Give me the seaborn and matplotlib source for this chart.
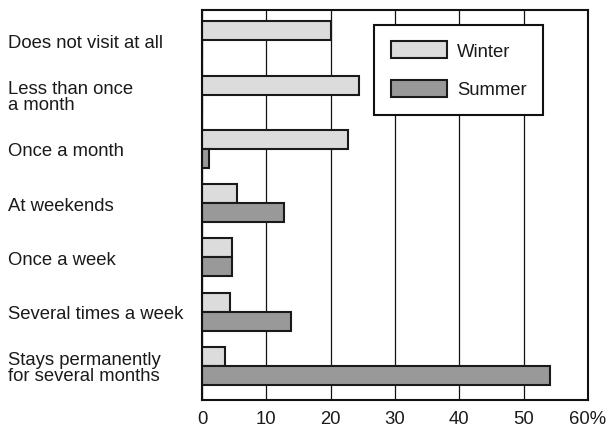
import pandas as pd
import numpy as np
import matplotlib.pyplot as plt
import seaborn as sns

categories = ["Does not visit at all", "Less than once\na month", "Once a month",
              "At weekends", "Once a week", "Several times a week",
              "Stays permanently\nfor several months"]
winter = [20.0, 24.4, 22.7, 5.4, 4.6, 4.4, 3.6]
summer = [0.0, 0.0, 1.1, 12.8, 4.6, 13.9, 54.1]
xticks = [0, 10, 20, 30, 40, 50, 60]
xlabels = ["0", "10", "20", "30", "40", "50", "60%"]

data = pd.DataFrame({
    "category": categories * 2,
    "season": ["Winter"] * len(categories) + ["Summer"] * len(categories),
    "value": winter + summer,
})

sns.set_style("white")
plt.rcParams['font.family'] = ['Liberation Sans', 'DejaVu Sans']
plt.rcParams['text.color'] = '#1a1a1a'
plt.rcParams['xtick.color'] = '#1a1a1a'
plt.rcParams['ytick.color'] = '#1a1a1a'
fs = 13.3

fig = plt.figure(figsize=(6.13, 4.27), dpi=100)
ax = fig.add_axes([0.3295, 0.0609, 0.6297, 0.9133])
ax.set_axisbelow(True)
sns.barplot(data=data, y="category", x="value", hue="season", orient="h",
            palette={"Winter": "#dcdcdc", "Summer": "#999999"},
            width=0.7, edgecolor="#1a1a1a", linewidth=1.5, ax=ax)

ax.set_xlim(0, 60)
ax.set_ylim(6.63, -0.56)
ax.set_xticks(xticks)
ax.set_xticklabels(xlabels, fontsize=fs)
ax.xaxis.grid(True, color="#111111", linewidth=0.9)
ax.yaxis.grid(False)
ax.tick_params(axis="x", length=0, pad=7)
ax.tick_params(axis="y", length=0, pad=139.7)
for lab in ax.get_yticklabels():
    lab.set_horizontalalignment("left")
    lab.set_fontsize(fs)
    lab.set_linespacing(0.95)
ax.set_xlabel("")
ax.set_ylabel("")
for sp in ax.spines.values():
    sp.set_visible(True)
    sp.set_color("#111111")
    sp.set_linewidth(1.5)

handles, labels = ax.get_legend_handles_labels()
leg = ax.legend(handles, labels, loc="upper right", bbox_to_anchor=(0.8834, 0.962),
                borderaxespad=0, fontsize=fs, handlelength=3.08, handleheight=1.03,
                handletextpad=0.5, labelspacing=1.05, borderpad=0.9,
                fancybox=False, framealpha=1, edgecolor="#111111")
leg.get_frame().set_linewidth(1.5)

plt.savefig("out.png", dpi=100)
